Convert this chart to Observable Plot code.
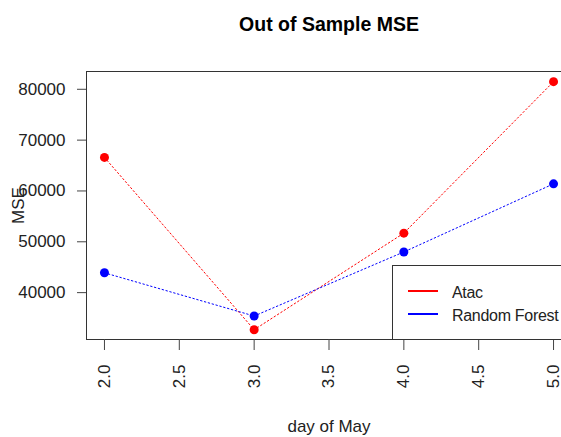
<!DOCTYPE html>
<html>
<head>
<meta charset="utf-8">
<script src="https://cdn.jsdelivr.net/npm/d3@7"></script>
<script src="https://cdn.jsdelivr.net/npm/@observablehq/plot@0.6"></script>
<style>
  html, body { margin: 0; padding: 0; background: #fff; }
  #wrap { position: relative; width: 561px; height: 437px; overflow: hidden; font-family: "Liberation Sans", Arial, sans-serif; }
  #wrap svg { max-width: none !important; width: 571px !important; height: 437px !important; }
  #legend { position: absolute; left: 392px; top: 265px; width: 200px; height: 73px; border: 1px solid #333; background: #fff; }
  .item { position: absolute; left: 15px; height: 20px; display: flex; align-items: center; font-size: 16px; letter-spacing: -0.3px; color: #222; white-space: nowrap; }
  .swatch { display: inline-block; width: 30px; height: 2px; margin-right: 14px; }
  .item span.lbl { position: relative; top: 2px; }
</style>
</head>
<body>
<div id="wrap"></div>
<script>
const days = [2, 3, 4, 5];
const atac = [66600, 32700, 51700, 81500];
const randomForest = [43900, 35400, 48000, 61400];
const seriesNames = ["Atac", "Random Forest"];
const seriesColors = ["red", "blue"];
const xTicks = [2.0, 2.5, 3.0, 3.5, 4.0, 4.5, 5.0];
const yTicks = [40000, 50000, 60000, 70000, 80000];

const rows = [];
days.forEach((d, i) => {
  rows.push({day: d, mse: atac[i], series: seriesNames[0]});
  rows.push({day: d, mse: randomForest[i], series: seriesNames[1]});
});

const chart = Plot.plot({
  width: 571,
  height: 437,
  marginLeft: 86,
  marginRight: 0,
  marginTop: 71,
  marginBottom: 98,
  style: {fontFamily: "Liberation Sans, Arial, sans-serif", fontSize: "17px", color: "#222", background: "#fff"},
  x: {domain: [1.88, 5.12]},
  y: {domain: [30780, 83500]},
  color: {domain: seriesNames, range: seriesColors},
  marks: [
    Plot.frame({stroke: "#333"}),
    Plot.axisY({ticks: yTicks, tickFormat: d => String(d), tickSize: 9, tickPadding: 12, stroke: "#444", label: null}),
    Plot.axisX({ticks: xTicks, tickFormat: d3.format(".1f"), tickSize: 11, tickPadding: 14, tickRotate: -90, stroke: "#444", label: null}),
    Plot.line(rows, {x: "day", y: "mse", z: "series", stroke: "series", strokeWidth: 1, strokeDasharray: "1.5,2.5"}),
    Plot.dot(rows, {x: "day", y: "mse", fill: "series", r: 4.5}),
    Plot.text(["Out of Sample MSE"], {frameAnchor: "top", lineAnchor: "middle", textAnchor: "middle", dy: -47, fontWeight: "bold", fontSize: 19.5, fill: "#000"}),
    Plot.text(["day of May"], {frameAnchor: "bottom", lineAnchor: "middle", textAnchor: "middle", dy: 87, fontSize: 17, fill: "#222"}),
    Plot.text(["MSE"], {frameAnchor: "left", lineAnchor: "middle", textAnchor: "middle", dx: -67.5, dy: 0, rotate: -90, fontSize: 17, fill: "#222"})
  ]
});
const wrap = document.getElementById("wrap");
wrap.appendChild(chart);

const legend = document.createElement("div");
legend.id = "legend";
seriesNames.forEach((name, i) => {
  const item = document.createElement("div");
  item.className = "item";
  item.style.top = (15 + i * 23) + "px";
  const sw = document.createElement("span");
  sw.className = "swatch";
  sw.style.background = seriesColors[i];
  const t = document.createElement("span");
  t.className = "lbl";
  t.textContent = name;
  item.appendChild(sw);
  item.appendChild(t);
  legend.appendChild(item);
});
wrap.appendChild(legend);
</script>
</body>
</html>
